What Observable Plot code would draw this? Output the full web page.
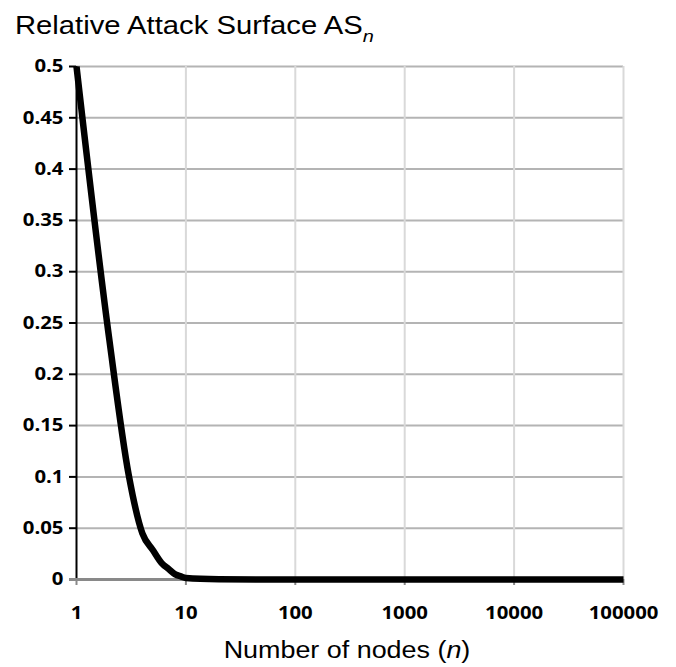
<!DOCTYPE html>
<html>
<head>
<meta charset="utf-8">
<script src="https://cdn.jsdelivr.net/npm/d3@7"></script>
<script src="https://cdn.jsdelivr.net/npm/@observablehq/plot@0.6"></script>
<style>
  html, body { margin: 0; padding: 0; background: #fff; }
  #chart { width: 676px; height: 667px; }
</style>
</head>
<body>
<div id="chart"></div>
<script>
// Data
const nodes   = [1, 2, 3, 4, 5, 6, 7, 8, 9, 10, 20, 50, 100, 1000, 10000, 100000];
const surface = [0.5, 0.233, 0.102, 0.045, 0.0285, 0.016, 0.01, 0.005, 0.003, 0.0015, 0.0003, 0, 0, 0, 0, 0];
const xTicks  = [1, 10, 100, 1000, 10000, 100000];
const yTicks  = [0, 0.05, 0.1, 0.15, 0.2, 0.25, 0.3, 0.35, 0.4, 0.45, 0.5];
const titleText  = "Relative Attack Surface AS";
const titleSub   = "n";
const xTitleText = ["Number of nodes (", "n", ")"];

const data = nodes.map((n, i) => ({n, as: surface[i]}));

const chart = Plot.plot({
  width: 676,
  height: 667,
  marginTop: 66,
  marginBottom: 88,
  marginLeft: 76,
  marginRight: 53,
  style: {fontFamily: "'Open Sans', sans-serif", fontWeight: 700, fontSize: "18px", color: "#000", background: "#fff"},
  x: {type: "log", domain: [1, 100000]},
  y: {domain: [0, 0.5]},
  marks: [
    Plot.gridY(yTicks.filter(d => d > 0), {stroke: "#b4b4b4", strokeOpacity: 1, strokeWidth: 2}),
    Plot.gridX(xTicks.filter(d => d > 1), {stroke: "#d9d9d9", strokeOpacity: 1, strokeWidth: 2}),
    Plot.axisY(yTicks, {tickSize: 7, tickPadding: 6, stroke: "#000", strokeWidth: 2, fill: "#000",
      tickFormat: d => String(+d.toFixed(2)), label: null}),
    Plot.axisX(xTicks, {tickSize: 6, tickPadding: 21, stroke: "#898989", strokeWidth: 2, fill: "#000",
      tickFormat: d => String(d), label: null}),
    Plot.ruleX([1], {stroke: "#000", strokeWidth: 2}),
    Plot.ruleY([0], {stroke: "#898989", strokeWidth: 3, insetLeft: -7}),
    Plot.line(data, {x: "n", y: "as", stroke: "#000", strokeWidth: 6.5, curve: "monotone-x",
      strokeLinejoin: "round", strokeLinecap: "butt"})
  ]
});

document.getElementById("chart").appendChild(chart);

// Stretch tick labels horizontally, like the reference
const svg = d3.select(chart);
svg.selectAll('g[aria-label$="tick label"] text').each(function() {
  const t = this.getAttribute("transform");
  if (t) this.setAttribute("transform", t + " scale(1.13,1)");
});

// Title
const title = svg.append("text")
  .attr("transform", "translate(15,34) scale(1.17,1)")
  .attr("text-anchor", "start")
  .attr("font-family", "'Liberation Sans', Arial, sans-serif")
  .attr("font-weight", 400)
  .attr("font-size", 25)
  .attr("fill", "#000")
  .text(titleText);
title.append("tspan")
  .attr("font-style", "italic")
  .attr("font-size", 17)
  .attr("dy", 8)
  .text(titleSub);

// X axis title
const xt = svg.append("text")
  .attr("transform", "translate(347,658) scale(1.17,1)")
  .attr("text-anchor", "middle")
  .attr("font-family", "'Liberation Sans', Arial, sans-serif")
  .attr("font-weight", 400)
  .attr("font-size", 23)
  .attr("fill", "#000");
xt.append("tspan").text(xTitleText[0]);
xt.append("tspan").attr("font-style", "italic").text(xTitleText[1]);
xt.append("tspan").text(xTitleText[2]);
</script>
</body>
</html>
